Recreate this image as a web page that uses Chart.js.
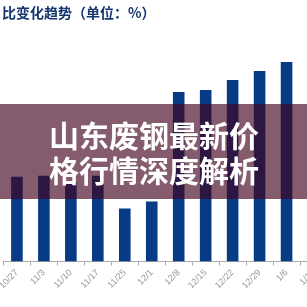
<!DOCTYPE html>
<html>
<head>
<meta charset="utf-8">
<script src="https://cdn.jsdelivr.net/npm/chart.js@4"></script>
<style>
    html, body { margin: 0; padding: 0; width: 307px; height: 307px; overflow: hidden; background: #fff; }
    #wrap { position: absolute; left: -1px; top: 0; width: 328px; height: 307px; }
</style>
</head>
<body>
<div id="wrap"><canvas id="myChart"></canvas></div>
<script>
// weekly change, %
var labels = ['10/27', '11/3', '11/10', '11/17', '11/25', '12/1', '12/8', '12/15', '12/22', '12/29', '1/6', '1/13'];
var values = [42.5, 43, 39.5, 43, 26.5, 30, 85, 86, 91, 95.5, 100, 95.5];

var chartTitle = '比变化趋势（单位：%）';
var bannerLines = ['山东废钢最新价', '格行情深度解析'];

var overlay = {
    id: 'overlay',
    afterDraw: function (chart) {
        var ctx = chart.ctx;
        ctx.save();
        // title top left
        ctx.fillStyle = '#163670';
        ctx.font = 'bold 14px "Noto Sans CJK SC"';
        ctx.textBaseline = 'middle';
        ctx.textAlign = 'left';
        ctx.fillText(chartTitle, 3, 13);

        // banner
        ctx.fillStyle = 'rgba(66, 4, 30, 0.65)';
        ctx.fillRect(0, 104, chart.width, 95);
        ctx.fillStyle = '#ffffff';
        ctx.font = 'bold 30px "Noto Sans CJK SC"';
        ctx.textAlign = 'center';
        ctx.fillText(bannerLines[0], 155, 136);
        ctx.fillText(bannerLines[1], 155, 171);
        ctx.restore();
    }
};

var ctx = document.getElementById('myChart').getContext('2d');
var myChart = new Chart(ctx, {
    type: 'bar',
    data: {
        labels: labels,
        datasets: [{
            label: 'change',
            data: values,
            backgroundColor: '#073b85',
            barPercentage: 0.43,
            categoryPercentage: 1
        }]
    },
    options: {
        responsive: true,
        maintainAspectRatio: false,
        animation: false,
        layout: { padding: { top: 52, bottom: 14, left: 0, right: 0 } },
        plugins: {
            legend: { display: false },
            tooltip: { enabled: false }
        },
        scales: {
            y: {
                display: false,
                min: 0,
                max: 105
            },
            x: {
                grid: {
                    display: true,
                    drawOnChartArea: false,
                    drawTicks: true,
                    tickLength: 4,
                    color: '#aaaaaa'
                },
                border: { color: '#aaaaaa' },
                ticks: {
                    color: '#999999',
                    font: { size: 9, family: 'Liberation Sans' },
                    minRotation: 45,
                    maxRotation: 45,
                    autoSkip: false,
                    padding: 2
                }
            }
        }
    },
    plugins: [overlay]
});
</script>
</body>
</html>
